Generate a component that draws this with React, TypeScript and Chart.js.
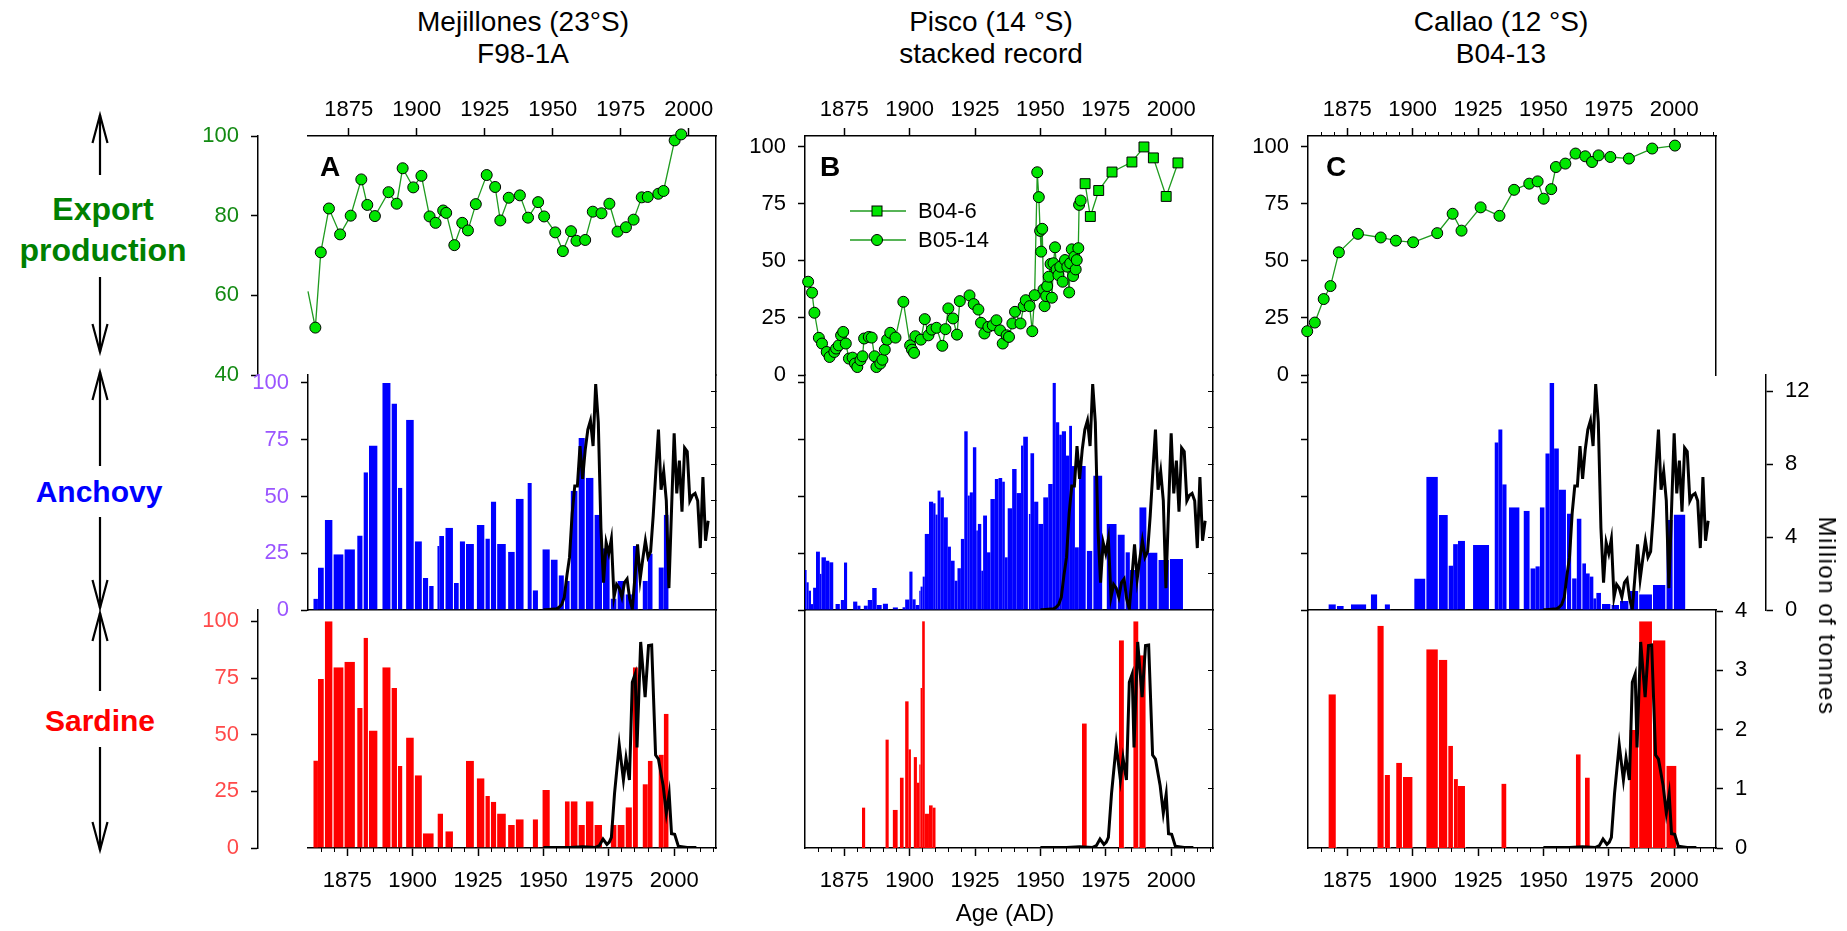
import React, { useEffect, useRef } from 'react';
import { Chart, BarController, registerables } from 'chart.js';

Chart.register(...registerables);

// Bars that span an explicit [x0, x1] interval on a linear x scale
class IntervalBarController extends BarController {
  static id = 'intervalBar';
  static defaults = BarController.defaults;
  static overrides = {};
  _calculateBarIndexPixels(index: number) {
    const meta: any = (this as any)._cachedMeta;
    const item: any = (this as any).getDataset().data[index];
    const a = meta.iScale.getPixelForValue(item.x0);
    const b = meta.iScale.getPixelForValue(item.x1);
    const base = Math.min(a, b);
    const head = Math.max(a, b);
    return { base, head, center: (base + head) / 2, size: head - base };
  }
}
Chart.register(IntervalBarController);

// ---------------- data ----------------
const YEAR_TICKS = [1875, 1900, 1925, 1950, 1975, 2000];
const MINOR_YEAR_TICKS = [1865, 1870, 1880, 1885, 1890, 1895, 1905, 1910, 1915, 1920, 1930, 1935, 1940, 1945, 1955, 1960, 1965, 1970, 1980, 1985, 1990, 1995, 2005, 2010, 2015];
const EXPORT_TICKS_A = [40, 60, 80, 100];
const PCT_TICKS = [0, 25, 50, 75, 100];
const ANCHOVY_MT_TICKS = [0, 4, 8, 12];
const ANCHOVY_MT_MARKS = [2, 4, 6, 8, 10, 12];
const SARDINE_MT_TICKS = [0, 1, 2, 3, 4];
const SARDINE_MT_MARKS = [1, 2, 3];

// Export production (%)
const mejillonesYears = [1860.0, 1862.7, 1864.7, 1867.7, 1871.8, 1875.7, 1879.6, 1881.8, 1884.6, 1889.6, 1892.6, 1894.8, 1898.7, 1901.7, 1904.7, 1906.9, 1909.7, 1910.8, 1913.8, 1916.7, 1918.8, 1921.7, 1925.7, 1928.8, 1930.7, 1933.8, 1937.9, 1940.9, 1944.6, 1946.8, 1950.9, 1953.7, 1956.7, 1958.7, 1961.9, 1964.7, 1967.9, 1970.8, 1973.8, 1976.9, 1979.7, 1982.7, 1984.9, 1988.8, 1990.7, 1994.8, 1997.2];
const mejillonesExport = [61, 51.9, 70.8, 81.8, 75.3, 80, 89.1, 82.7, 79.9, 85.9, 83.0, 91.9, 87.1, 90.0, 79.8, 78.2, 81.3, 80.7, 72.6, 78.2, 76.3, 82.9, 90.2, 87.2, 78.8, 84.5, 85.1, 79.5, 83.4, 79.8, 75.8, 71.1, 76.1, 73.7, 73.9, 81.0, 80.6, 83.0, 76.0, 77.1, 79.0, 84.6, 84.7, 85.5, 86.2, 98.9, 100.4];

const piscoB046Years = [1967.1, 1969.1, 1972.3, 1977.4, 1985.0, 1989.6, 1993.2, 1998.1, 2002.6];
const piscoB046Export = [83.9, 69.5, 80.9, 89.0, 93.4, 100, 95.2, 78.3, 93.0];

const piscoB0514Years = [1861.2, 1862.7, 1863.6, 1865.3, 1866.5, 1868.3, 1869.4, 1871.2, 1871.9, 1872.9, 1873.8, 1874.6, 1875.6, 1876.8, 1878.2, 1879.1, 1880.0, 1881.2, 1882.0, 1882.6, 1884.4, 1885.5, 1886.6, 1887.3, 1888.8, 1889.6, 1890.5, 1891.4, 1892.6, 1894.6, 1897.6, 1900.2, 1900.9, 1901.7, 1902.2, 1904.3, 1905.8, 1907.2, 1908.5, 1910.3, 1912.5, 1913.7, 1914.8, 1916.6, 1918.1, 1919.2, 1922.9, 1924.5, 1926.3, 1927.3, 1928.6, 1930.1, 1931.8, 1933.2, 1934.6, 1935.6, 1937.1, 1938.0, 1939.3, 1940.3, 1942.4, 1943.6, 1944.4, 1945.9, 1946.9, 1947.8, 1948.8, 1949.4, 1949.9, 1950.3, 1950.7, 1951.2, 1951.6, 1952.2, 1952.6, 1953.2, 1953.9, 1954.4, 1955.0, 1955.6, 1956.2, 1956.9, 1957.6, 1958.5, 1959.4, 1960.3, 1961.0, 1961.4, 1962.0, 1962.5, 1963.0, 1963.5, 1963.9, 1964.5, 1964.8, 1965.4];
const piscoB0514Export = [40.9, 36.1, 27.3, 16.3, 13.8, 10.1, 7.9, 10.1, 11.6, 13.0, 17.4, 18.9, 13.8, 7.2, 7.6, 5.0, 3.5, 6.5, 8.2, 16.0, 16.7, 16.4, 8.2, 3.5, 5.0, 6.7, 11.1, 15.5, 18.5, 16.4, 32.1, 13.0, 11.1, 9.7, 17.0, 15.5, 24.5, 17.4, 19.9, 20.7, 12.8, 20.1, 29.2, 24.8, 17.7, 32.4, 34.9, 31.1, 28.7, 22.9, 18.2, 21.1, 21.8, 24.0, 19.6, 13.8, 17.4, 16.7, 22.6, 27.7, 22.6, 30.2, 32.8, 30.2, 19.2, 35.0, 88.9, 78.0, 63.2, 54.1, 64.1, 37.5, 30.2, 34.6, 39.0, 43.1, 48.7, 33.9, 49.0, 56.0, 46.3, 43.8, 47.5, 40.9, 50.4, 47.5, 36.2, 49.0, 55.1, 43.4, 51.9, 46.3, 50.4, 55.6, 74.6, 76.5];

const callaoYears = [1859.7, 1862.6, 1866.0, 1868.6, 1871.8, 1879.1, 1887.8, 1893.6, 1900.2, 1909.4, 1915.3, 1918.7, 1926.0, 1933.2, 1938.8, 1944.6, 1947.8, 1950.1, 1953.0, 1954.8, 1958.4, 1962.3, 1966.0, 1968.6, 1971.1, 1975.6, 1982.7, 1991.6, 2000.3];
const callaoExport = [19.2, 23.0, 33.3, 39.0, 53.8, 61.9, 60.3, 58.9, 58.2, 62.2, 70.7, 63.3, 73.5, 69.8, 81.2, 83.9, 84.9, 77.3, 81.5, 91.2, 92.7, 97.1, 95.9, 93.4, 96.3, 95.6, 94.9, 99.3, 100.6];

// Fish scale deposition (% of max), rows: [from year, to year, value]
const mejillonesAnchovy = [
  [1862.1, 1863.8, 4.9], [1863.8, 1866.4, 18.7], [1866.4, 1869.7, 39.6], [1869.7, 1873.9, 24.6], [1873.9, 1878.3, 26.8],
  [1878.8, 1881.2, 32.8], [1881.2, 1883.3, 60.7], [1883.3, 1886.9, 72.4], [1888.4, 1891.9, 100], [1891.9, 1894.4, 90.9],
  [1894.4, 1896.4, 53.8], [1897.5, 1900.8, 83.8], [1900.8, 1903.9, 30.3], [1903.9, 1906.3, 14.1], [1906.3, 1908.4, 10.6],
  [1909.5, 1910.2, 28.2], [1910.2, 1912.0, 32.6], [1912.5, 1915.8, 36.2], [1915.8, 1918.0, 11.9], [1918.0, 1920.4, 30.3],
  [1920.4, 1923.8, 29.1], [1924.5, 1927.8, 37.4], [1927.8, 1929.9, 31.5], [1929.9, 1932.3, 47.8], [1932.3, 1936.0, 29.1],
  [1936.5, 1939.4, 25.6], [1939.4, 1942.8, 49.0], [1943.9, 1945.9, 55.9], [1945.9, 1948.3, 8.7], [1949.6, 1952.8, 26.8],
  [1952.8, 1955.8, 22.2], [1955.8, 1958.2, 15.3], [1958.2, 1960.4, 12.8], [1960.4, 1963.4, 52.5], [1963.4, 1966.2, 75.7],
  [1966.2, 1969.5, 58.2], [1969.5, 1972.8, 41.9], [1972.8, 1975.7, 27.2], [1975.7, 1978.3, 5.1], [1978.3, 1981.4, 12.8],
  [1981.4, 1984.2, 6.9], [1984.2, 1986.5, 28.2], [1988.0, 1989.9, 12.8], [1989.9, 1992.1, 24.9], [1994.1, 1996.0, 18.7],
  [1996.0, 1998.2, 41.9],
];
const mejillonesSardine = [
  [1862.1, 1863.8, 38.5], [1863.8, 1866.4, 74.6], [1866.4, 1869.7, 100], [1869.7, 1873.9, 79.7], [1873.9, 1878.3, 82.2],
  [1878.8, 1881.2, 61.8], [1881.2, 1883.3, 92.8], [1883.3, 1886.9, 51.8], [1888.4, 1891.9, 79.7], [1891.9, 1894.4, 70.6],
  [1894.4, 1896.4, 36.2], [1897.5, 1900.8, 48.8], [1900.8, 1903.9, 32.1], [1903.9, 1908.4, 6.5], [1909.5, 1912.0, 15.2],
  [1912.5, 1915.8, 7.4], [1920.4, 1923.8, 38.5], [1924.5, 1927.8, 30.8], [1927.8, 1929.9, 22.9], [1929.9, 1932.3, 20.4],
  [1932.3, 1936.0, 15.2], [1936.5, 1939.4, 10.1], [1939.4, 1942.8, 12.7], [1945.9, 1948.3, 12.7], [1949.6, 1952.8, 25.6],
  [1958.2, 1960.4, 20.6], [1960.4, 1963.4, 20.6], [1963.4, 1966.2, 10.1], [1966.2, 1969.5, 20.6], [1969.5, 1972.8, 10.1],
  [1975.7, 1978.3, 10.1], [1978.3, 1981.4, 10.1], [1981.4, 1984.2, 18], [1984.2, 1986.5, 79.7], [1988.0, 1989.9, 28.1],
  [1989.9, 1992.1, 38.5], [1994.1, 1996.0, 41.1], [1996.0, 1998.2, 59.2],
];

const piscoAnchovy = [
  [1859.7, 1860.6, 17.6], [1860.6, 1861.4, 12.2], [1861.4, 1862.3, 8.5], [1862.3, 1863.1, 2.6], [1863.1, 1864.2, 9.8],
  [1864.2, 1865.7, 25.7], [1865.7, 1866.3, 15.9], [1866.3, 1868.0, 23.2], [1868.0, 1869.3, 21.7], [1869.3, 1870.8, 21.0],
  [1871.6, 1873.7, 2.6], [1873.7, 1874.9, 4.4], [1874.9, 1876.1, 20.9], [1878.4, 1880.0, 3.7], [1880.0, 1881.2, 1.9],
  [1882.5, 1884.0, 1.9], [1884.0, 1885.7, 4.4], [1885.7, 1887.4, 9.7], [1887.4, 1889.7, 2.2], [1889.7, 1892.1, 2.9],
  [1893.5, 1895.9, 1.2], [1897.3, 1898.3, 1.2], [1898.3, 1899.9, 4.6], [1899.9, 1901.1, 16.9], [1901.1, 1902.3, 4.7],
  [1902.3, 1903.7, 2.2], [1903.7, 1904.2, 8.5], [1904.2, 1905.0, 10.3], [1905.0, 1905.8, 14.7], [1905.8, 1907.4, 33.5],
  [1907.4, 1909.0, 47.7], [1909.0, 1909.9, 47.0], [1909.9, 1910.7, 42.0], [1910.7, 1911.8, 52.6], [1911.8, 1913.1, 49.6],
  [1913.1, 1914.6, 40.8], [1914.6, 1915.8, 27.9], [1915.8, 1917.2, 21.7], [1917.2, 1918.3, 12.9], [1918.3, 1919.6, 18.4],
  [1919.6, 1920.9, 31.3], [1920.9, 1922.2, 78.7], [1922.2, 1923.0, 50.4], [1923.0, 1924.2, 51.8], [1924.2, 1925.5, 71.7],
  [1925.5, 1926.1, 35.0], [1926.1, 1927.4, 37.9], [1927.4, 1928.1, 17.3], [1928.1, 1929.6, 41.6], [1929.6, 1930.9, 25.4],
  [1930.9, 1932.6, 48.9], [1932.6, 1934.0, 57.7], [1934.0, 1935.4, 58.1], [1935.4, 1936.4, 56.5], [1936.4, 1937.5, 23.2],
  [1937.5, 1939.2, 44.8], [1939.2, 1940.9, 62.1], [1940.9, 1942.6, 51.5], [1942.6, 1943.4, 72.4], [1943.4, 1945.6, 76.4],
  [1945.6, 1946.2, 42.3], [1946.2, 1947.6, 69.0], [1947.6, 1949.2, 47.7], [1949.2, 1951.1, 37.9], [1951.1, 1953.0, 49.6],
  [1953.0, 1954.7, 55.5], [1954.7, 1955.9, 100], [1955.9, 1957.2, 82.7], [1957.2, 1958.2, 77.2], [1958.2, 1959.8, 78.7],
  [1959.8, 1961.0, 68.0], [1961.0, 1962.1, 81.1], [1962.1, 1963.2, 63.4], [1963.2, 1964.7, 27.6], [1964.7, 1967.7, 63.4],
  [1967.7, 1970.2, 26.1], [1970.2, 1974.0, 59.2], [1975.3, 1979.5, 37.9], [1979.5, 1982.6, 33.2], [1982.6, 1984.2, 25.4],
  [1984.2, 1987.8, 17.6], [1987.8, 1990.9, 45.2], [1990.9, 1995.1, 25.3], [1995.1, 1999.5, 22.0], [1999.5, 2004.9, 22.5],
];
const piscoSardine = [
  [1881.8, 1883.0, 17.8], [1890.8, 1892.0, 47.8], [1893.5, 1895.8, 16.9], [1896.3, 1897.7, 31.0], [1898.3, 1899.6, 64.7],
  [1899.6, 1900.5, 43.5], [1901.6, 1902.8, 40.1], [1902.8, 1903.7, 28.8], [1903.7, 1904.2, 36.8], [1904.2, 1904.8, 70.6],
  [1904.8, 1905.8, 100], [1905.8, 1907.4, 15.1], [1907.4, 1908.8, 18.8], [1908.8, 1909.9, 17.8], [1965.9, 1967.7, 54.9],
  [1980.0, 1982.3, 91.6], [1985.5, 1987.8, 100], [1987.8, 1990.6, 85],
];

const callaoAnchovy = [
  [1867.8, 1871.0, 2.5], [1871.0, 1874.0, 1.8], [1876.4, 1882.6, 2.5], [1884.0, 1886.8, 6.9], [1889.3, 1891.7, 2.5],
  [1900.6, 1905.2, 13.9], [1905.2, 1910.0, 58.7], [1910.0, 1913.8, 41.8], [1913.8, 1915.5, 19.5], [1915.5, 1917.3, 29.0],
  [1917.3, 1920.4, 30.5], [1923.1, 1929.6, 28.6], [1931.4, 1932.8, 73.8], [1932.8, 1934.3, 79.5], [1934.3, 1935.9, 55.3],
  [1936.8, 1941.2, 45.2], [1942.4, 1945.1, 43.7], [1945.1, 1947.0, 18.3], [1947.0, 1948.6, 19.2], [1948.6, 1950.8, 45.2],
  [1950.8, 1952.4, 68.9], [1952.4, 1954.1, 100], [1954.1, 1955.9, 71.1], [1955.9, 1959.0, 53.1], [1959.0, 1961.0, 42.5],
  [1961.0, 1962.7, 13.9], [1962.7, 1964.9, 40.3], [1964.9, 1966.3, 20.5], [1966.3, 1967.7, 16.1], [1967.7, 1969.1, 14.7],
  [1969.1, 1970.2, 5.1], [1970.2, 1972.4, 7.6], [1972.4, 1976.0, 2.6], [1976.0, 1979.3, 2.2], [1979.3, 1982.9, 4.0],
  [1982.9, 1986.6, 8.4], [1986.6, 1991.9, 6.9], [1991.9, 1997.0, 11.0], [1997.0, 1999.8, 39.6], [1999.8, 2004.6, 42.1],
];
const callaoSardine = [
  [1867.8, 1871.0, 67.8], [1886.5, 1889.3, 98.1], [1889.3, 1891.7, 32.2], [1893.7, 1896.3, 37.6], [1896.3, 1900.3, 31.3],
  [1905.2, 1910.0, 87.7], [1910.0, 1913.6, 83.0], [1913.6, 1915.8, 45.1], [1915.8, 1917.3, 30.4], [1917.3, 1920.4, 27.4],
  [1934.0, 1935.8, 28.3], [1962.4, 1964.6, 41.4], [1965.9, 1967.7, 31.0], [1982.9, 1986.6, 52.1], [1986.6, 1991.9, 100],
  [1991.9, 1997.0, 91.6], [1997.0, 2001.2, 36.3],
];

// Landings (million tonnes)
const anchovyCatchYears = [1950, 1951, 1952, 1953, 1954, 1955, 1956, 1957, 1958, 1959, 1960, 1961, 1962, 1963, 1964, 1965, 1966, 1967, 1968, 1969, 1970, 1971, 1972, 1973, 1974, 1975, 1976, 1977, 1978, 1979, 1980, 1981, 1982, 1983, 1984, 1985, 1986, 1987, 1988, 1989, 1990, 1991, 1992, 1993, 1994, 1995, 1996, 1997, 1998, 1999, 2000, 2001, 2002, 2003, 2004, 2005, 2006, 2007, 2008, 2009, 2010, 2011, 2012, 2013];
const anchovyCatch = [0.02, 0.02, 0.03, 0.04, 0.05, 0.05, 0.15, 0.3, 0.7, 1.9, 2.9, 5.3, 6.8, 6.8, 9.0, 7.2, 8.8, 9.9, 10.4, 9.0, 12.4, 10.3, 4.5, 1.5, 3.7, 3.1, 3.9, 0.7, 1.4, 1.2, 0.7, 1.5, 1.7, 0.6, 0.05, 1.8, 3.6, 1.7, 2.8, 3.8, 2.9, 3.2, 5.2, 7.6, 9.9, 6.6, 7.6, 6.0, 1.2, 5.5, 9.7, 6.4, 8.2, 5.4, 8.9, 8.7, 6.0, 6.3, 6.4, 6.0, 3.4, 7.3, 3.8, 4.9];

const sardineCatchYears = [1950, 1955, 1960, 1965, 1970, 1971.4, 1972.8, 1974.3, 1975.2, 1976.0, 1977.2, 1979.0, 1980.6, 1981.6, 1982.9, 1984.0, 1985.1, 1985.8, 1987.2, 1988.9, 1990.2, 1991.4, 1992.9, 1994.0, 1995.8, 1997.0, 1998.1, 1999.0, 2000.2, 2001.6, 2005, 2008.5];
const sardineCatch = [0.01, 0.01, 0.01, 0.02, 0.01, 0.04, 0.15, 0.06, 0.1, 0.18, 0.92, 1.74, 1.15, 1.52, 1.15, 2.8, 2.94, 1.7, 3.48, 2.55, 3.42, 3.43, 1.57, 1.5, 1.05, 0.59, 0.91, 0.24, 0.23, 0.03, 0.01, 0.01];

// ---------------- styling ----------------
const FONT = "'Liberation Sans', Arial, Helvetica, sans-serif";
const GREEN_TEXT = '#008000';
const GREEN_TICK = '#138a13';
const PURPLE_TICK = '#9a55ff';
const RED_TICK = '#ff4a4a';
const MARK_GREEN = '#00e600';
const LINE_GREEN = '#1f9b1f';
const BAR_BLUE = '#0000ff';
const BAR_RED = '#ff0000';

const PANEL_W = 408;
const COL_A = 308;
const COL_B = 805;
const COL_C = 1308;
const TOP_Y = 136, TOP_H = 239;
const MID_Y = 375, MID_H = 235;
const BOT_Y = 610, BOT_H = 238;

const X_FULL: [number, number] = [1860, 2016];
const X_MEJ_TOP: [number, number] = [1860, 2010];
const PCT_TOP_MAX = 104.8;
const PCT_MID_MAX = 103.5;
const PCT_BOT_MAX = 105;
const MT_MID_MAX = 12.9;
const MT_BOT_MAX = 4.02;

// ---------------- scale helpers ----------------
const clearPad = (s: any) => { s.paddingLeft = 0; s.paddingRight = 0; s.paddingTop = 0; s.paddingBottom = 0; };
const fitW = (w: number) => (s: any) => { s.width = w; clearPad(s); };
const fitH = (h: number) => (s: any) => { s.height = h; clearPad(s); };
const setTicks = (vals: number[]) => (s: any) => { s.ticks = vals.map((value) => ({ value })); };
const BORDER = { display: true, color: '#000', width: 1.5 };

function xAxis(position: 'top' | 'bottom', range: [number, number], size: number, labelled: boolean) {
  return {
    type: 'linear', position, min: range[0], max: range[1], offset: false, weight: 0,
    afterBuildTicks: setTicks(YEAR_TICKS),
    afterFit: fitH(size),
    ticks: {
      display: labelled, autoSkip: false, maxRotation: 0, padding: position === 'top' ? 5 : 12,
      color: '#000', font: { family: FONT, size: 22 }, callback: (v: number) => String(v),
    },
    grid: { display: labelled, offset: false, drawOnChartArea: false, drawTicks: true, tickLength: 8, tickColor: '#000', tickWidth: 1.5 },
    border: BORDER,
  };
}

// zero-height axis that only draws short minor tick marks next to the main year axis
function minorXAxis(position: 'top' | 'bottom', range: [number, number]) {
  return {
    type: 'linear', position, min: range[0], max: range[1], offset: false, weight: -1,
    afterBuildTicks: setTicks(MINOR_YEAR_TICKS),
    afterFit: fitH(0),
    ticks: { display: false },
    grid: { display: true, offset: false, drawOnChartArea: false, drawTicks: true, tickLength: 4, tickColor: '#000', tickWidth: 1 },
    border: { display: false },
  };
}

function yAxis(o: { position: 'left' | 'right'; max: number; min?: number; size: number; weight?: number; values?: number[]; labels?: boolean; marks?: boolean; tickLen?: number; color?: string }) {
  const min = o.min ?? 0;
  return {
    type: 'linear', position: o.position, min, max: o.max, weight: o.weight ?? 0, offset: false,
    afterBuildTicks: setTicks(o.values ?? [min, o.max]),
    afterFit: fitW(o.size),
    ticks: { display: !!o.labels, padding: 12, color: o.color ?? '#000', font: { family: FONT, size: 22 } },
    grid: { display: !!o.marks, offset: false, drawOnChartArea: false, drawTicks: true, tickLength: o.tickLen ?? 7, tickColor: '#000', tickWidth: o.tickLen && o.tickLen < 0 ? 1 : 1.5 },
    border: BORDER,
  };
}

function spacer(position: 'left' | 'right', size: number) {
  return {
    type: 'linear', position, weight: 0, afterFit: fitW(size),
    ticks: { display: false }, grid: { display: false }, border: { display: false },
  };
}

// ---------------- dataset helpers ----------------
const toPoints = (xs: number[], ys: number[]) => xs.map((x, i) => ({ x, y: ys[i] }));
const toBars = (rows: number[][]) => rows.map(([x0, x1, y]) => ({ x: (x0 + x1) / 2, y, x0, x1 }));

function exportSeries(label: string, xs: number[], ys: number[], style: string, radius: number, hideFirst = false) {
  return {
    type: 'line', label, data: toPoints(xs, ys), xAxisID: 'x', yAxisID: 'y',
    borderColor: LINE_GREEN, borderWidth: 1.3,
    pointStyle: style,
    pointRadius: hideFirst ? (c: any) => (c.dataIndex === 0 ? 0 : radius) : radius,
    pointBackgroundColor: MARK_GREEN, pointBorderColor: '#000', pointBorderWidth: 1,
    clip: false, order: 0,
  };
}

function barSeries(rows: number[][], color: string) {
  return {
    type: 'intervalBar', data: toBars(rows), xAxisID: 'x', yAxisID: 'y',
    backgroundColor: color,
    borderColor: 'rgba(255,255,255,0.5)',
    borderWidth: (c: any) => (c.raw && c.raw.x1 - c.raw.x0 >= 2 ? { left: 0, right: 1, top: 0, bottom: 0 } : 0),
    order: 1,
  };
}

function catchSeries(xs: number[], ys: number[]) {
  return {
    type: 'line', data: toPoints(xs, ys), xAxisID: 'x', yAxisID: 'yMt',
    borderColor: '#000', borderWidth: 3, pointRadius: 0, order: 0,
  };
}

// ---------------- panels ----------------
type Pad = { l: number; t: number; r: number; b: number };
type PanelDef = { key: string; left: number; top: number; height: number; pad: Pad; layoutPad: any; scales: any; datasets: any[] };

const topPanel = (key: string, left: number, padL: number, scales: any, datasets: any[]): PanelDef => ({
  key, left, top: TOP_Y, height: TOP_H, pad: { l: padL, t: 62, r: 4, b: 16 }, layoutPad: { bottom: 16 }, scales, datasets,
});

const PANELS: PanelDef[] = [
  topPanel('aTop', COL_A, 112, {
    x: xAxis('top', X_MEJ_TOP, 62, true),
    ySp: spacer('left', 50),
    y: yAxis({ position: 'left', min: 40, max: 100, size: 62, weight: 1, values: EXPORT_TICKS_A, labels: true, marks: true, color: GREEN_TICK }),
    yR: yAxis({ position: 'right', max: 100, min: 40, size: 4 }),
  }, [exportSeries('F98-1A', mejillonesYears, mejillonesExport, 'circle', 5.5, true)]),
  topPanel('bTop', COL_B, 62, {
    x: xAxis('top', X_FULL, 62, true),
    y: yAxis({ position: 'left', max: PCT_TOP_MAX, size: 62, values: PCT_TICKS, labels: true, marks: true }),
    yR: yAxis({ position: 'right', max: PCT_TOP_MAX, size: 4 }),
  }, [
    exportSeries('B04-6', piscoB046Years, piscoB046Export, 'rect', 7),
    exportSeries('B05-14', piscoB0514Years, piscoB0514Export, 'circle', 5.5),
  ]),
  topPanel('cTop', COL_C, 62, {
    x: xAxis('top', X_FULL, 62, true),
    xMinor: minorXAxis('top', X_FULL),
    y: yAxis({ position: 'left', max: PCT_TOP_MAX, size: 62, values: PCT_TICKS, labels: true, marks: true }),
    yR: yAxis({ position: 'right', max: PCT_TOP_MAX, size: 4 }),
  }, [exportSeries('B04-13', callaoYears, callaoExport, 'circle', 5.5)]),

  {
    key: 'aMid', left: COL_A, top: MID_Y, height: MID_H, pad: { l: 62, t: 14, r: 4, b: 16 }, layoutPad: { top: 14 },
    scales: {
      x: xAxis('bottom', X_FULL, 16, false),
      y: yAxis({ position: 'left', max: PCT_MID_MAX, size: 62, values: PCT_TICKS, labels: true, marks: true, color: PURPLE_TICK }),
      yMt: yAxis({ position: 'right', max: MT_MID_MAX, size: 4, values: ANCHOVY_MT_MARKS, marks: true, tickLen: -5 }),
    },
    datasets: [catchSeries(anchovyCatchYears, anchovyCatch), barSeries(mejillonesAnchovy, BAR_BLUE)],
  },
  {
    key: 'bMid', left: COL_B, top: MID_Y, height: MID_H, pad: { l: 10, t: 14, r: 4, b: 16 }, layoutPad: { top: 14 },
    scales: {
      x: xAxis('bottom', X_FULL, 16, false),
      y: yAxis({ position: 'left', max: PCT_MID_MAX, size: 10, values: PCT_TICKS, marks: true }),
      yMt: yAxis({ position: 'right', max: MT_MID_MAX, size: 4, values: ANCHOVY_MT_MARKS, marks: true, tickLen: -5 }),
    },
    datasets: [catchSeries(anchovyCatchYears, anchovyCatch), barSeries(piscoAnchovy, BAR_BLUE)],
  },
  {
    key: 'cMid', left: COL_C, top: MID_Y, height: MID_H, pad: { l: 10, t: 14, r: 100, b: 16 }, layoutPad: { top: 14 },
    scales: {
      x: xAxis('bottom', X_FULL, 16, false),
      y: yAxis({ position: 'left', max: PCT_MID_MAX, size: 10, values: PCT_TICKS, marks: true }),
      ySpR: spacer('right', 50),
      yMt: yAxis({ position: 'right', max: MT_MID_MAX, size: 50, weight: 1, values: ANCHOVY_MT_TICKS, labels: true, marks: true }),
    },
    datasets: [catchSeries(anchovyCatchYears, anchovyCatch), barSeries(callaoAnchovy, BAR_BLUE)],
  },

  {
    key: 'aBot', left: COL_A, top: BOT_Y, height: BOT_H, pad: { l: 112, t: 18, r: 4, b: 62 }, layoutPad: { top: 18 },
    scales: {
      x: xAxis('bottom', X_FULL, 62, true),
      xMinor: minorXAxis('bottom', X_FULL),
      ySp: spacer('left', 50),
      y: yAxis({ position: 'left', max: PCT_BOT_MAX, size: 62, weight: 1, values: PCT_TICKS, labels: true, marks: true, color: RED_TICK }),
      yMt: yAxis({ position: 'right', max: MT_BOT_MAX, size: 4, values: SARDINE_MT_MARKS, marks: true, tickLen: -5 }),
    },
    datasets: [catchSeries(sardineCatchYears, sardineCatch), barSeries(mejillonesSardine, BAR_RED)],
  },
  {
    key: 'bBot', left: COL_B, top: BOT_Y, height: BOT_H, pad: { l: 4, t: 18, r: 4, b: 62 }, layoutPad: { top: 18 },
    scales: {
      x: xAxis('bottom', X_FULL, 62, true),
      xMinor: minorXAxis('bottom', X_FULL),
      y: yAxis({ position: 'left', max: PCT_BOT_MAX, size: 4 }),
      yMt: yAxis({ position: 'right', max: MT_BOT_MAX, size: 4, values: SARDINE_MT_MARKS, marks: true, tickLen: -5 }),
    },
    datasets: [catchSeries(sardineCatchYears, sardineCatch), barSeries(piscoSardine, BAR_RED)],
  },
  {
    key: 'cBot', left: COL_C, top: BOT_Y, height: BOT_H, pad: { l: 4, t: 18, r: 46, b: 62 }, layoutPad: { top: 18 },
    scales: {
      x: xAxis('bottom', X_FULL, 62, true),
      xMinor: minorXAxis('bottom', X_FULL),
      y: yAxis({ position: 'left', max: PCT_BOT_MAX, size: 4 }),
      yMt: yAxis({ position: 'right', max: MT_BOT_MAX, size: 46, values: SARDINE_MT_TICKS, labels: true, marks: true }),
    },
    datasets: [catchSeries(sardineCatchYears, sardineCatch), barSeries(callaoSardine, BAR_RED)],
  },
];

function ChartPanel({ def }: { def: PanelDef }) {
  const ref = useRef<HTMLCanvasElement | null>(null);
  const w = PANEL_W + def.pad.l + def.pad.r;
  const h = def.height + def.pad.t + def.pad.b;
  useEffect(() => {
    const chart = new Chart(ref.current as HTMLCanvasElement, {
      type: 'line',
      data: { datasets: def.datasets },
      options: {
        animation: false,
        responsive: false,
        maintainAspectRatio: false,
        devicePixelRatio: 1,
        events: [],
        layout: { autoPadding: false, padding: { left: 0, top: 0, right: 0, bottom: 0, ...def.layoutPad } },
        plugins: { legend: { display: false }, tooltip: { enabled: false }, title: { display: false } },
        scales: def.scales,
      },
    } as any);
    return () => chart.destroy();
  }, [def]);
  return (
    <canvas
      ref={ref}
      width={w}
      height={h}
      style={{ position: 'absolute', left: def.left - def.pad.l, top: def.top - def.pad.t, width: w, height: h }}
    />
  );
}

// ---------------- annotations ----------------
const centered = (x: number, y: number, extra: React.CSSProperties = {}): React.CSSProperties => ({
  position: 'absolute', left: x, top: y, transform: 'translate(-50%, -50%)', whiteSpace: 'nowrap',
  fontFamily: FONT, lineHeight: 1, ...extra,
});

const TITLES = [
  { x: 523, lines: ['Mejillones (23°S)', 'F98-1A'] },
  { x: 991, lines: ['Pisco (14 °S)', 'stacked record'] },
  { x: 1501, lines: ['Callao (12 °S)', 'B04-13'] },
];
const PANEL_LETTERS = [
  { x: 330, label: 'A' },
  { x: 830, label: 'B' },
  { x: 1336, label: 'C' },
];
const ARROWS = [
  [175, 115], [277, 352], [466, 372], [517, 608], [691, 613], [747, 850],
];

function Arrow({ from, to }: { from: number; to: number }) {
  const x = 100;
  const dir = to < from ? 1 : -1;
  const len = 28;
  const hw = 7.5;
  return (
    <g stroke="#000" strokeWidth={2.2} fill="none">
      <line x1={x} y1={from} x2={x} y2={to} />
      <polyline points={`${x - hw},${to + dir * len} ${x},${to} ${x + hw},${to + dir * len}`} />
    </g>
  );
}

function LegendRow({ y, shape, label }: { y: number; shape: 'rect' | 'circle'; label: string }) {
  return (
    <div style={{ position: 'absolute', left: 850, top: y - 12, height: 24, display: 'flex', alignItems: 'center' }}>
      <svg width={56} height={24} style={{ display: 'block' }}>
        <line x1={0} y1={12} x2={56} y2={12} stroke={LINE_GREEN} strokeWidth={1.3} />
        {shape === 'rect'
          ? <rect x={22} y={7} width={10} height={10} fill={MARK_GREEN} stroke="#000" strokeWidth={1} />
          : <circle cx={27} cy={12} r={5.5} fill={MARK_GREEN} stroke="#000" strokeWidth={1} />}
      </svg>
      <span style={{ marginLeft: 12, fontFamily: FONT, fontSize: 22, lineHeight: 1, color: '#000' }}>{label}</span>
    </div>
  );
}

export default function App() {
  return (
    <div style={{ position: 'absolute', left: 0, top: 0, width: 1847, height: 931, overflow: 'hidden', background: '#fff' }}>
      {TITLES.map((t) => (
        <div key={t.x} style={centered(t.x, 38, { fontSize: 28, lineHeight: '32px', textAlign: 'center', color: '#000' })}>
          {t.lines[0]}<br />{t.lines[1]}
        </div>
      ))}

      <svg width={200} height={931} style={{ position: 'absolute', left: 0, top: 0 }}>
        {ARROWS.map(([from, to]) => <Arrow key={`${from}-${to}`} from={from} to={to} />)}
      </svg>
      <div style={centered(103, 229.5, { fontSize: 32, fontWeight: 'bold', lineHeight: '41px', textAlign: 'center', color: GREEN_TEXT })}>
        Export<br />production
      </div>
      <div style={centered(99, 492, { fontSize: 30, fontWeight: 'bold', color: BAR_BLUE })}>Anchovy</div>
      <div style={centered(100, 721, { fontSize: 30, fontWeight: 'bold', color: BAR_RED })}>Sardine</div>

      {PANELS.map((p) => <ChartPanel key={p.key} def={p} />)}

      {PANEL_LETTERS.map((l) => (
        <div key={l.label} style={centered(l.x, 167, { fontSize: 28, fontWeight: 'bold', color: '#000' })}>{l.label}</div>
      ))}

      <LegendRow y={211} shape="rect" label="B04-6" />
      <LegendRow y={240} shape="circle" label="B05-14" />

      <div style={centered(1827, 616, { fontSize: 24, letterSpacing: 1.5, transform: 'translate(-50%, -50%) rotate(90deg)', color: '#000' })}>
        Million of tonnes
      </div>
      <div style={centered(1005, 913, { fontSize: 24, color: '#000' })}>Age (AD)</div>
    </div>
  );
}
